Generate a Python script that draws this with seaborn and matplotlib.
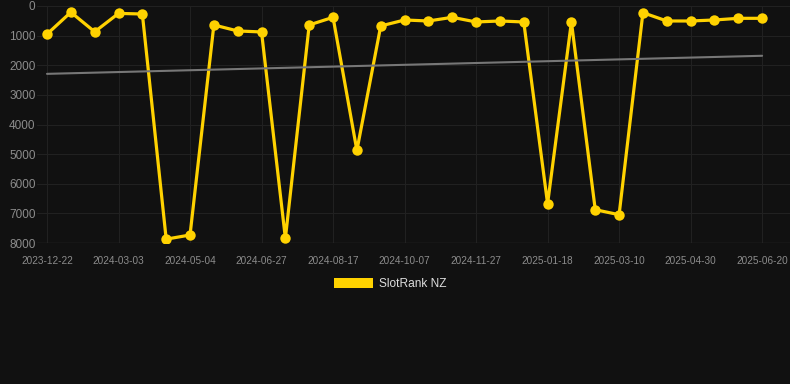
import numpy as np
import pandas as pd
import matplotlib
matplotlib.use('Agg')
import matplotlib.pyplot as plt
import seaborn as sns
from matplotlib.patches import Patch

# 数据
dates = ['2023-12-22', '2024-03-03', '2024-05-04', '2024-06-27', '2024-08-17', '2024-10-07',
         '2024-11-27', '2025-01-18', '2025-03-10', '2025-04-30', '2025-06-20']
rank = [950, 210, 870, 250, 270, 7870, 7730, 640, 843, 876, 7843, 640, 382, 4876, 674, 472,
        506, 382, 539, 506, 539, 6674, 539, 6876, 7045, 225, 506, 506, 472, 416, 416]
series_name = 'SlotRank NZ'

df = pd.DataFrame({'i': np.arange(len(rank)), 'rank': rank})

sns.set_style('dark')
plt.rcParams['font.family'] = ['Liberation Sans', 'DejaVu Sans']

bg = '#111111'
gold = '#ffd200'
fig = plt.figure(figsize=(7.9, 3.84), dpi=100, facecolor=bg)
ax = fig.add_axes([37/790, 1-243/384, 1-37/790, 237/384])
ax.set_facecolor(bg)

# 排名曲线
sns.lineplot(data=df, x='i', y='rank', ax=ax, color=gold, linewidth=2.3, marker='o',
             markersize=7.5, markeredgewidth=0, solid_joinstyle='miter', zorder=3)
# 趋势线
sns.regplot(data=df, x='i', y='rank', ax=ax, scatter=False, ci=None,
            line_kws=dict(color='#777777', linewidth=1.5, zorder=4))

ax.set_ylim(8000, 0)
ax.set_xlim(-0.42, 31.17)
ax.set_yticks(range(0, 8001, 1000))
ax.set_xticks(range(0, len(rank), 3))
ax.set_xticklabels(dates)
ax.set_xlabel('')
ax.set_ylabel('')

ax.grid(True, color='#212121', linewidth=0.8)
for s in ax.spines.values():
    s.set_visible(False)
ax.axhline(8000, color='#2c2c2c', linewidth=1, zorder=1)
ax.tick_params(axis='y', length=0, pad=1, labelsize=8.5, labelcolor='#8c8c8c')
ax.tick_params(axis='x', length=7, width=0.8, color='#212121', pad=2, labelsize=7.2, labelcolor='#8c8c8c')

# 图例
handles = [Patch(facecolor=gold, edgecolor='none', label=series_name)]
fig.legend(handles=handles, loc='center', bbox_to_anchor=(390/790, 1-284/384), frameon=False,
           fontsize=8.6, labelcolor='#dddddd', handlelength=3.3, handleheight=1.0, handletextpad=0.5)

fig.savefig('out.png', dpi=100, facecolor=bg)
